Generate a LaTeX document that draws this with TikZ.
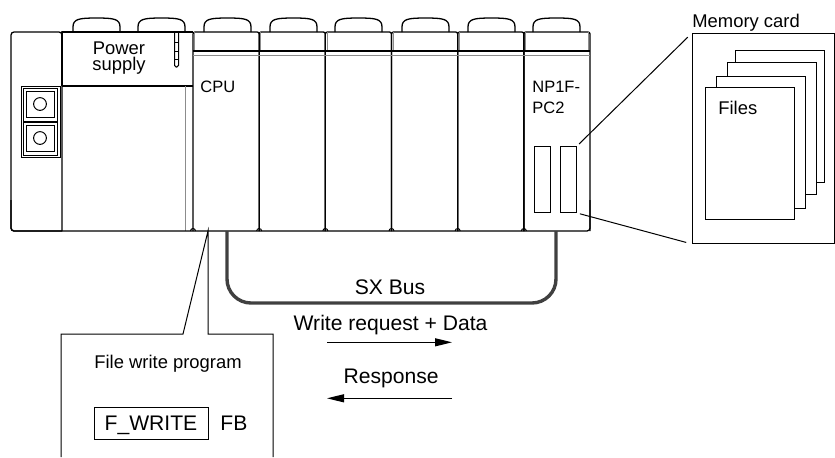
\documentclass[tikz,border=0pt]{standalone}
\usepackage{fontspec}
\setmainfont{Liberation Sans}
\usetikzlibrary{arrows.meta}

\tikzset{
  frame/.style={line width=0.65pt, line join=round},
  thinline/.style={line width=0.5pt},
  greyline/.style={line width=0.5pt, draw=black!45},
  lbl/.style={inner sep=0pt, font=\fontsize{9.2}{8.2}\selectfont},
  biglbl/.style={inner sep=0pt, font=\fontsize{10.55}{12}\selectfont},
  smalllbl/.style={inner sep=0pt, font=\fontsize{8.25}{10.85}\selectfont},
  bus/.style={line width=1.7pt, draw=black!75, rounded corners=12pt},
  flow/.style={line width=0.6pt, -{Triangle[length=8.5pt,width=4pt]}},
  page/.style={draw, fill=white, line width=0.55pt, minimum width=44.5pt,
    minimum height=65.8pt, inner sep=0pt, anchor=north west},
  slot/.style={draw, thinline, minimum width=8pt, minimum height=33pt,
    inner sep=0pt, anchor=north west},
}

\begin{document}
\begin{tikzpicture}[x=0.5pt, y=-0.5pt]
\useasboundingbox (0,0) rectangle (835,457);

% end block with the two buttons
\draw[frame, rounded corners=1.5pt] (62,231) -- (11,231) -- (11,32) -- (62,32) -- (62,231);
\draw[thinline] (21.7,86) rectangle (60,157);
\foreach \y in {88,122}{
  \draw[thinline] (23.3,\y) rectangle (57.3,\y+33);
  \draw[thinline] (26.7,\y+3) rectangle (54,\y+29);
  \draw[thinline] (40,\y+16) circle (3.2pt);
}

% power supply
\draw[frame] (62,86) -- (62,32) -- (193,32);
\draw[frame] (62,86) -- (193,86);
\draw[greyline] (185,86) -- (185,231);
\draw[thinline, rounded corners=0.8pt] (174.5,32) -- (174.5,67) -- (178.5,67) -- (178.5,32);
\foreach \y in {42,51,59}
  \draw[thinline] (174.5,\y) -- (178.5,\y);
\node[lbl, align=center, anchor=north] (ps) at (119,41.1) {Power\\supply};

% CPU and the other modules
\foreach \i in {0,...,5}{
  \pgfmathsetmacro\l{193+66.17*\i}
  \pgfmathsetmacro\r{\l+66.17}
  \draw[frame, rounded corners=1pt] (\l,231) -- (\l,32) -- (\r,32) -- (\r,231);
  \draw[greyline] (\l+1.7,32) -- (\l+1.7,51);
  \draw[thinline] (\l-2.5,231) arc[start angle=180, end angle=360, radius=2.5];
}
\draw[greyline] (588,32) -- (588,51);
\draw[line width=1pt] (193,51) -- (590,51);
\draw[greyline] (193,55) -- (590,55);
\draw[frame, rounded corners=1.5pt] (11,200) -- (11,231) -- (590,231) -- (590,200);

% tabs on top
\foreach \x in {73,138,204,270,335,402,468,533}
  \draw[frame] (\x,32) -- (\x,27) .. controls (\x,19) and (\x+6,18) .. (\x+23.5,18)
    .. controls (\x+41,18) and (\x+47,19) .. (\x+47,27) -- (\x+47,32);

\node[smalllbl, anchor=base west] (cpu) at (200,92.7) {CPU};
\node[smalllbl, align=left, anchor=north west] (pc2) at (532,80.4) {NP1F-\\PC2};

% card slots
\node[slot] (slota) at (534,146) {};
\node[slot] (slotb) at (560,146) {};

% memory card with its files
\node[draw, thinline, minimum width=71pt, minimum height=105pt, inner sep=0pt,
  anchor=north west] (card) at (692,33) {};
\node[lbl, anchor=base west] (cardlbl) at (692,27) {Memory card};
\node[page] (page4) at (735,50) {};
\node[page] (page3) at (727,62) {};
\node[page] (page2) at (716,76) {};
\node[page] (page1) at (705,87) {};
\node[lbl, anchor=base west] (files) at (718,114) {Files};
\draw[thinline, shorten <=1.5pt, shorten >=3pt] (slotb.north east) -- (card.north west);
\draw[thinline, shorten <=1.5pt, shorten >=3pt] (slotb.south east) -- (card.south west);

% SX bus cable
\coordinate (busL) at (227,231);
\coordinate (busR) at (556,231);
\draw[bus] (busL) -- (227,303) -- (556,303) -- (busR);
\node[biglbl, anchor=base] (sx) at (390,294.3) {SX Bus};

% request / response
\node[biglbl, anchor=base west] (req) at (293.3,330) {Write request + Data};
\coordinate (reqA) at (327,342.3);
\coordinate (reqB) at (452,342.3);
\draw[flow] (reqA) -- (reqB);
\node[biglbl, anchor=base west] (res) at (343.3,383.3) {Response};
\coordinate (resA) at (452,398.3);
\coordinate (resB) at (327,398.3);
\draw[flow] (resA) -- (resB);

% file write program callout
\coordinate (prgtip) at (208,231);
\draw[thinline] (61,457) -- (61,334) -- (183,334) -- (prgtip) -- (208,334) -- (273,334) -- (273,457);
\node[lbl, anchor=base west] (prg) at (94,368.3) {File write program};
\node[draw, thinline, biglbl, minimum width=57pt, minimum height=16pt,
  text height=7.55pt, text depth=0pt] (fwrite) at (151,423.3) {F\_WRITE};
\node[biglbl, anchor=base west] (fb) at (220,430.7) {FB};
\end{tikzpicture}
\end{document}
